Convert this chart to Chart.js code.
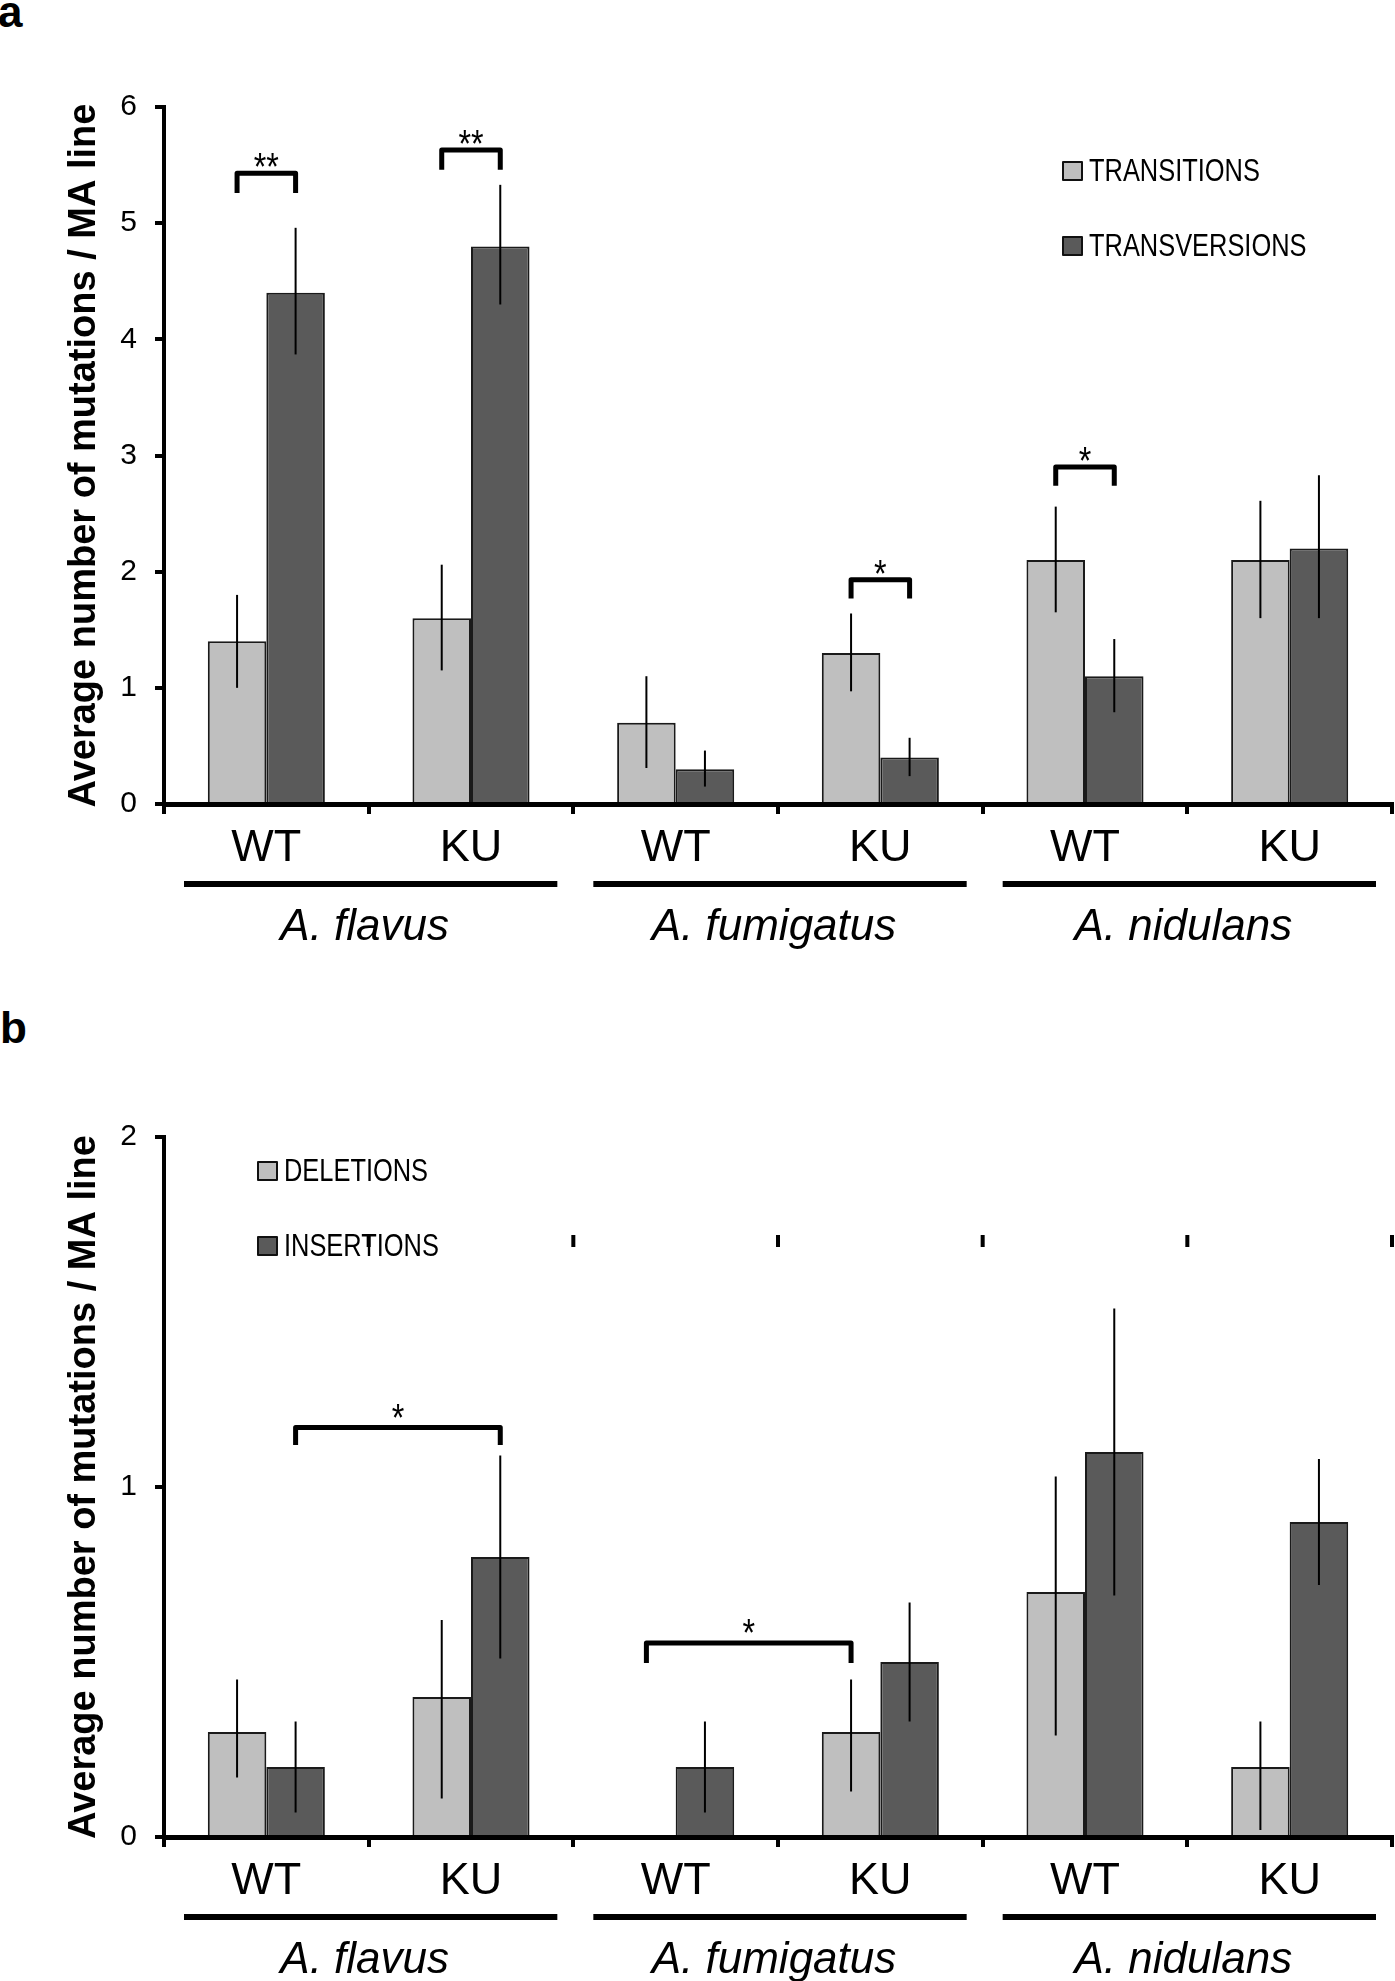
<!DOCTYPE html>
<html>
<head>
<meta charset="utf-8">
<script src="https://cdn.jsdelivr.net/npm/chart.js@4.4.1/dist/chart.umd.min.js"></script>
<style>
  body { margin: 0; background: #fff; width: 1395px; height: 1981px; position: relative; overflow: hidden; }
  .panel { position: absolute; left: 0; width: 1395px; }
  .tag { position: absolute; font: bold 44px 'Liberation Sans', Arial, sans-serif; color: #000; }
</style>
</head>
<body>
<div class="tag" style="left:-2px; top:-13px">a</div>
<div class="panel" style="top:0"><canvas id="chartA" width="1395" height="990"></canvas></div>
<div class="tag" style="left:0; top:1003px">b</div>
<div class="panel" style="top:990px"><canvas id="chartB" width="1395" height="991"></canvas></div>

<script>
// Données
const categories = ['WT', 'KU', 'WT', 'KU', 'WT', 'KU'];
const species = ['A. flavus', 'A. fumigatus', 'A. nidulans'];
const yTicksA = [0, 1, 2, 3, 4, 5, 6];
const yTicksB = [0, 1, 2];

// panel a
const transitions = [1.4, 1.6, 0.7, 1.3, 2.1, 2.1];
const transitionsErr = [[1.00, 1.80], [1.15, 2.06], [0.31, 1.10], [0.97, 1.64], [1.65, 2.56], [1.60, 2.61]];
const transversions = [4.4, 4.8, 0.3, 0.4, 1.1, 2.2];
const transversionsErr = [[3.87, 4.96], [4.30, 5.33], [0.15, 0.46], [0.24, 0.57], [0.79, 1.42], [1.60, 2.83]];

// panel b
const deletions = [0.3, 0.4, null, 0.3, 0.7, 0.2];
const deletionsErr = [[0.17, 0.45], [0.11, 0.62], null, [0.13, 0.45], [0.29, 1.03], [0.02, 0.33]];
const insertions = [0.2, 0.8, 0.2, 0.5, 1.1, 0.9];
const insertionsErr = [[0.07, 0.33], [0.51, 1.09], [0.07, 0.33], [0.33, 0.67], [0.69, 1.51], [0.72, 1.08]];

// crochets de significativité : [dataset, index] -> [dataset, index], hauteur, bas des pattes
const bracketsA = [
    { from: [0, 0], to: [1, 0], top: 5.43, foot: 5.26, mark: '**' },
    { from: [0, 1], to: [1, 1], top: 5.63, foot: 5.46, mark: '**' },
    { from: [0, 3], to: [1, 3], top: 1.93, foot: 1.77, mark: '*' },
    { from: [0, 4], to: [1, 4], top: 2.90, foot: 2.74, mark: '*' }
];
const bracketsB = [
    { from: [1, 0], to: [1, 1], top: 1.17, foot: 1.12, mark: '*' },
    { from: [0, 2], to: [0, 3], top: 0.554, foot: 0.497, mark: '*' }
];

const LIGHT = '#bfbfbf';
const DARK = '#5a5a5a';
const CAT_PCT = 0.572;
const SANS = "'Liberation Sans', Arial, sans-serif";

// centre d'une barre, même si la valeur est nulle
function barCenter(chart, di, i) {
    const x = chart.scales.x;
    const step = x.width / x.ticks.length;
    const w = step * CAT_PCT / 2;
    return x.getPixelForValue(i) + (di === 0 ? -w / 2 : w / 2);
}

// texte un peu condensé (la police d'origine est étroite)
function narrowText(ctx, text, x, y, squeeze) {
    ctx.save();
    ctx.translate(x, y);
    ctx.scale(squeeze, 1);
    ctx.fillText(text, 0, 0);
    ctx.restore();
}

const extras = {
    id: 'extras',
    afterDatasetsDraw(chart, args, opts) {
        const ctx = chart.ctx;
        const x = chart.scales.x, y = chart.scales.y;
        ctx.save();

        // barres d'erreur
        ctx.strokeStyle = '#000';
        ctx.lineWidth = 2;
        chart.data.datasets.forEach((ds, di) => {
            ds.errors.forEach((e, i) => {
                if (!e) return;
                const bx = barCenter(chart, di, i);
                ctx.beginPath();
                ctx.moveTo(bx, y.getPixelForValue(e[0]));
                ctx.lineTo(bx, y.getPixelForValue(e[1]));
                ctx.stroke();
            });
        });

        // crochets + étoiles
        ctx.lineWidth = 5;
        ctx.lineJoin = 'round';
        ctx.fillStyle = '#000';
        ctx.font = '38px ' + SANS;
        ctx.textAlign = 'center';
        ctx.textBaseline = 'alphabetic';
        opts.brackets.forEach(b => {
            const x0 = barCenter(chart, b.from[0], b.from[1]);
            const x1 = barCenter(chart, b.to[0], b.to[1]);
            const yt = y.getPixelForValue(b.top), yf = y.getPixelForValue(b.foot);
            ctx.beginPath();
            ctx.moveTo(x0, yf);
            ctx.lineTo(x0, yt);
            ctx.lineTo(x1, yt);
            ctx.lineTo(x1, yf);
            ctx.stroke();
            narrowText(ctx, b.mark, (x0 + x1) / 2, yt + 7 - opts.starLift, 0.85);
        });

        // légende
        const ca = chart.chartArea;
        ctx.textAlign = 'left';
        ctx.textBaseline = 'middle';
        ctx.font = '31px ' + SANS;
        chart.data.datasets.forEach((ds, di) => {
            const lx = ca.left + opts.legendX;
            const ly = ca.top + opts.legendY + di * 75;
            ctx.fillStyle = ds.backgroundColor;
            ctx.fillRect(lx, ly, 19, 18);
            ctx.lineWidth = 2;
            ctx.strokeStyle = '#111';
            ctx.strokeRect(lx, ly, 19, 18);
            ctx.fillStyle = '#000';
            narrowText(ctx, ds.label, lx + 26, ly + 10, 0.82);
        });

        // restes de graduations (panneau b)
        if (opts.ghostTicks) {
            ctx.fillStyle = '#000';
            const gy = y.getPixelForValue(opts.ghostTicks);
            const step = x.width / x.ticks.length;
            for (let k = 0; k <= x.ticks.length; k++) {
                ctx.fillRect(x.left + k * step - 2, gy, 4, 12);
            }
        }

        // traits et noms d'espèces
        const step = x.width / x.ticks.length;
        ctx.fillStyle = '#000';
        ctx.textAlign = 'center';
        ctx.textBaseline = 'alphabetic';
        ctx.font = 'italic 44px ' + SANS;
        species.forEach((name, g) => {
            const left = x.left + 2 * g * step + 20;
            const right = x.left + (2 * g + 2) * step - 16;
            ctx.fillRect(left, x.top + 77, right - left, 6);
            ctx.fillText(name, (left + right) / 2 - 6, x.top + 136);
        });
        ctx.restore();
    }
};

function makeChart(id, labels, series, errs, colors, yMax, yTicks, topPad, xHeight, pluginOpts) {
    const ctx = document.getElementById(id).getContext('2d');
    return new Chart(ctx, {
        type: 'bar',
        data: {
            labels: labels,
            datasets: series.map((s, i) => ({
                label: s.label,
                data: s.data,
                errors: errs[i],
                backgroundColor: colors[i],
                borderColor: '#1a1a1a',
                borderWidth: 2,
                borderSkipped: 'bottom',
                categoryPercentage: CAT_PCT,
                barPercentage: 1.0
            }))
        },
        options: {
            responsive: false,
            animation: false,
            layout: { padding: { left: 0, right: 3, top: topPad, bottom: 0 } },
            plugins: {
                legend: { display: false },
                tooltip: { enabled: false },
                extras: pluginOpts
            },
            scales: {
                x: {
                    grid: { drawOnChartArea: false, drawTicks: true, tickLength: 10, lineWidth: 4, color: '#000', offset: true },
                    border: { display: true, color: '#000', width: 5 },
                    ticks: { color: '#000', padding: 8, font: { family: SANS, size: 45 }, maxRotation: 0 },
                    afterFit: s => { s.height = xHeight; }
                },
                y: {
                    min: 0,
                    max: yMax,
                    afterBuildTicks: s => { s.ticks = yTicks.map(v => ({ value: v })); },
                    grid: { drawOnChartArea: false, drawTicks: true, tickLength: 9, lineWidth: 4, color: '#000' },
                    border: { display: true, color: '#000', width: 4 },
                    ticks: { color: '#000', padding: 18, font: { family: SANS, size: 30 } },
                    title: {
                        display: true,
                        text: 'Average number of mutations / MA line',
                        color: '#000',
                        font: { family: SANS, size: 38, weight: 'bold' },
                        padding: { top: 62, bottom: 0 }
                    },
                    afterFit: s => { s.width = 164; }
                }
            }
        },
        plugins: [extras]
    });
}

makeChart('chartA', categories,
    [{ label: 'TRANSITIONS', data: transitions }, { label: 'TRANSVERSIONS', data: transversions }],
    [transitionsErr, transversionsErr], [LIGHT, DARK], 6, yTicksA, 107, 186,
    { brackets: bracketsA, legendX: 899, legendY: 55, starLift: 0, ghostTicks: null });

makeChart('chartB', categories,
    [{ label: 'DELETIONS', data: deletions }, { label: 'INSERTIONS', data: insertions }],
    [deletionsErr, insertionsErr], [LIGHT, DARK], 2, yTicksB, 147, 144,
    { brackets: bracketsB, legendX: 94, legendY: 25, starLift: 4, ghostTicks: 1.72 });
</script>
</body>
</html>
